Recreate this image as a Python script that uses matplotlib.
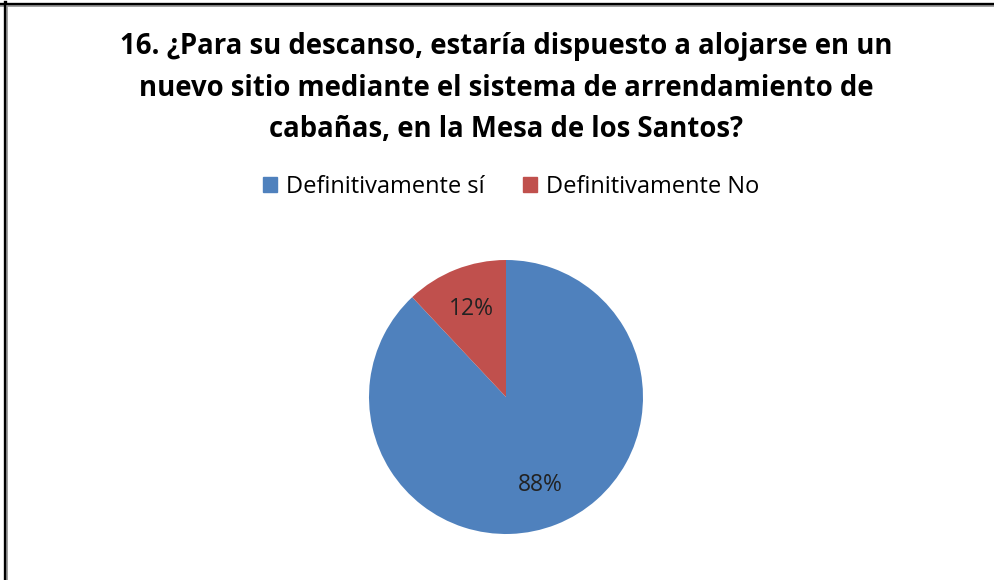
import matplotlib.pyplot as plt
from matplotlib.patches import Rectangle
from matplotlib.lines import Line2D

# data
categories = ["Definitivamente sí", "Definitivamente No"]
values = [88, 12]
colors = ["#4F81BD", "#C0504D"]
title = ("16. ¿Para su descanso, estaría dispuesto a alojarse en un\n"
         "nuevo sitio mediante el sistema de arrendamiento de\n"
         "cabañas, en la Mesa de los Santos?")

plt.rcParams['font.family'] = ['Open Sans', 'DejaVu Sans']

fig = plt.figure(figsize=(9.94, 5.80), dpi=100)

# frame lines (top and left, like the cut screenshot)
fig.add_artist(Line2D([0, 1], [1 - 3.5/580, 1 - 3.5/580], color="black", lw=2.4, transform=fig.transFigure))
fig.add_artist(Line2D([0, 1], [1 - 6/580, 1 - 6/580], color="#999999", lw=1.2, transform=fig.transFigure))
fig.add_artist(Line2D([4.5/994, 4.5/994], [0, 1 - 2/580], color="black", lw=2.4, transform=fig.transFigure))
fig.add_artist(Line2D([7/994, 7/994], [0, 1 - 6/580], color="#999999", lw=1.2, transform=fig.transFigure))

fig.text(506/994, 1 - 88/580, title, ha="center", va="center", fontsize=19.8,
         fontweight="bold", linespacing=1.55, color="black")

# pie: center ~(506,397), radius ~137 px
r = 137
ax = fig.add_axes([(506 - r)/994, (580 - 397 - r)/580, 2*r/994, 2*r/580])
wedges, texts, autotexts = ax.pie(values, colors=colors, startangle=90, counterclock=False,
                                  autopct="%1.0f%%", pctdistance=0.69,
                                  textprops={"fontsize": 16.5, "color": "#222222"})
ax.set_xlim(-1, 1)
ax.set_ylim(-1, 1)
ax.set_aspect("equal")

# legend
handles = [Rectangle((0, 0), 1, 1, color=c) for c in colors]
fig.legend(handles, categories, loc="center", bbox_to_anchor=(511/994, 1 - 187/580),
           ncol=2, frameon=False, fontsize=17, handlelength=0.6, handleheight=0.6,
           handletextpad=0.4, columnspacing=1.6)

fig.savefig("out.png", dpi=100, facecolor="white")
